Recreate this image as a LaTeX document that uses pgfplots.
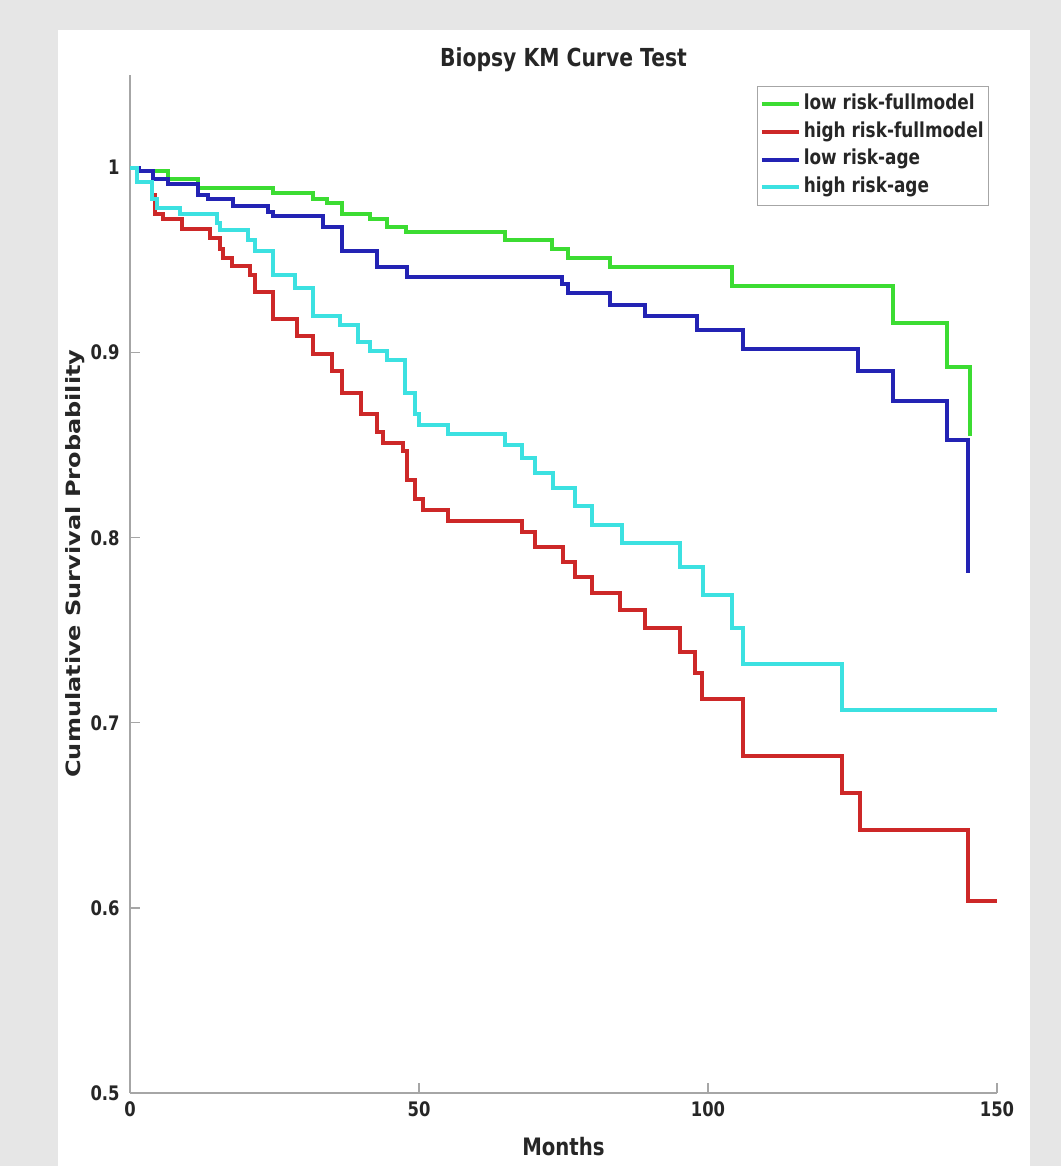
\documentclass[border=0pt]{standalone}
\usepackage{fontspec}
\setmainfont{DejaVu Sans}[FakeStretch=0.82]
\newfontfamily\ylabfont{DejaVu Sans}[FakeStretch=1.22]
\usepackage{pgfplots}
\pgfplotsset{compat=1.18}
\definecolor{bg}{RGB}{230,230,230}
\definecolor{tickc}{RGB}{38,38,38}
\definecolor{cgreen}{RGB}{60,220,50}
\definecolor{cred}{RGB}{205,40,40}
\definecolor{cblue}{RGB}{35,35,180}
\definecolor{ccyan}{RGB}{60,225,225}
\begin{document}
\begin{tikzpicture}
\fill[bg] (0,0) rectangle (530.5pt,583pt);
\fill[white] (29pt,0) rectangle (515pt,568pt);
\begin{axis}[
  at={(65pt,36.5pt)}, anchor=south west,
  scale only axis, width=433.5pt, height=509pt,
  xmin=0, xmax=150, ymin=0.5, ymax=1.05,
  axis lines*=left,
  axis line style={gray!70, line width=0.6pt},
  xtick={0,50,100,150}, ytick={0.5,0.6,0.7,0.8,0.9,1},
  tick align=inside, major tick length=5pt,
  tick style={gray!70, line width=0.6pt},
  /pgf/number format/assume math mode=true,
  yticklabel style={/pgf/number format/fixed, /pgf/number format/precision=1},
  ticklabel style={font=\fontsize{10pt}{12pt}\selectfont\bfseries, text=tickc},
  xticklabel style={inner sep=0pt, anchor=north, yshift=-4pt},
  yticklabel style={inner sep=0pt, anchor=east, xshift=-5pt},
  title={Biopsy KM Curve Test},
  title style={font=\fontsize{12.4pt}{14pt}\selectfont\bfseries, text=tickc, at={(0.5,1)}, anchor=base, yshift=-2pt, inner sep=0pt},
  xlabel={Months},
  xlabel style={font=\fontsize{12pt}{14pt}\selectfont\bfseries, text=tickc, at={(axis description cs:0.5,0)}, anchor=base, yshift=-31pt, inner sep=0pt},
  ylabel={Cumulative Survival Probability},
  ylabel style={font=\ylabfont\fontsize{9.84pt}{12pt}\selectfont\bfseries, text=tickc, at={(axis description cs:-0.0634,0.52)}, anchor=center, inner sep=0pt},
  legend style={at={(axis description cs:0.9908,0.989)}, anchor=north east, draw=gray!70, line width=0.5pt,
    font=\fontsize{10.3pt}{12pt}\selectfont\bfseries, text=tickc, inner xsep=1pt, inner ysep=2pt,
    nodes={inner xsep=1.5pt, inner ysep=1.5pt, text height=8pt, text depth=2.8pt}},
  legend image code/.code={\draw[#1, line width=2pt] (0pt,0pt) -- (18.5pt,0pt);},
  legend cell align=left,
  every axis plot/.append style={line width=2pt, const plot},
]
\addplot[cgreen] coordinates {(0,1)(1.5,0.998)(6.6,0.994)(11.8,0.989)(24.8,0.986)(31.7,0.983)(34,0.981)(36.7,0.975)(41.5,0.972)(44.4,0.968)(47.8,0.965)(64.9,0.961)(73,0.956)(75.8,0.951)(83,0.946)(104.2,0.936)(132,0.916)(141.3,0.892)(145.3,0.855)};
\addlegendentry{low risk-fullmodel}
\addplot[cred] coordinates {(0,1)(1.2,0.992)(3.8,0.985)(4.3,0.975)(5.7,0.972)(9,0.967)(13.8,0.962)(15.6,0.956)(16.1,0.951)(17.6,0.947)(20.8,0.942)(21.6,0.933)(24.8,0.918)(28.9,0.909)(31.7,0.899)(34.9,0.890)(36.7,0.878)(40,0.867)(42.7,0.857)(43.8,0.851)(47.3,0.847)(47.9,0.831)(49.3,0.821)(50.7,0.815)(55,0.809)(67.8,0.803)(70,0.795)(74.9,0.787)(77,0.779)(79.9,0.770)(84.8,0.761)(89.1,0.751)(95.2,0.738)(97.8,0.727)(99,0.713)(106,0.682)(123.2,0.662)(126.3,0.642)(145,0.604)(150,0.604)};
\addlegendentry{high risk-fullmodel}
\addplot[cblue] coordinates {(0,1)(1.5,0.998)(4,0.994)(6.6,0.991)(11.8,0.985)(13.5,0.983)(17.8,0.979)(23.9,0.976)(24.8,0.974)(33.4,0.968)(36.7,0.955)(42.7,0.946)(47.9,0.941)(74.7,0.937)(75.8,0.932)(83,0.926)(89.1,0.920)(98.1,0.912)(106,0.902)(126,0.890)(132,0.874)(141.3,0.853)(145,0.781)};
\addlegendentry{low risk-age}
\addplot[ccyan] coordinates {(0,1)(1.2,0.992)(3.8,0.983)(4.7,0.978)(8.7,0.975)(15,0.970)(15.6,0.966)(20.4,0.961)(21.6,0.955)(24.8,0.942)(28.5,0.935)(31.7,0.920)(36.3,0.915)(39.4,0.906)(41.5,0.901)(44.4,0.896)(47.5,0.878)(49.3,0.867)(50,0.861)(55,0.856)(64.9,0.850)(67.8,0.843)(70,0.835)(73.2,0.827)(77,0.817)(79.9,0.807)(85.1,0.797)(95.2,0.784)(99.1,0.769)(104.2,0.751)(106,0.732)(123.2,0.707)(150,0.707)};
\addlegendentry{high risk-age}
\end{axis}
\pgfresetboundingbox
\useasboundingbox (0,0) rectangle (530.5pt,583pt);
\end{tikzpicture}
\end{document}
